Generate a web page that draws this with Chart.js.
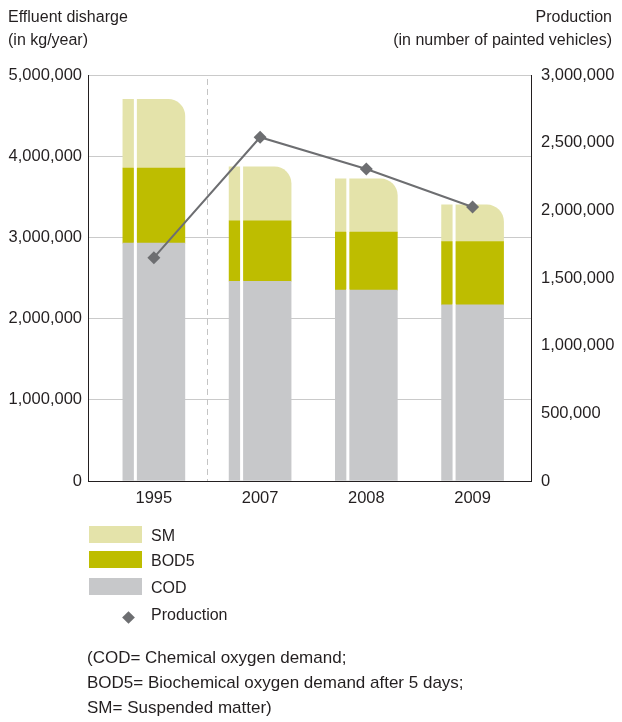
<!DOCTYPE html>
<html>
<head>
<meta charset="utf-8">
<title>Effluent discharge and production</title>
<script src="https://cdn.jsdelivr.net/npm/chart.js@4.4.1/dist/chart.umd.min.js"></script>
<style>
  html, body { margin: 0; padding: 0; background: #fff; }
  #wrap {
    position: relative; width: 622px; height: 722px; overflow: hidden;
    font-family: "Liberation Sans", Arial, sans-serif;
    color: #231f20;
  }
  #chart { position: absolute; left: 0; top: 0; }
  .t { position: absolute; font-size: 16px; line-height: 18px; white-space: nowrap; }
  .right { text-align: right; right: 10px; }
  .box { position: absolute; width: 53px; height: 17px; }
  .diamond { position: absolute; width: 9px; height: 9px; transform: rotate(45deg); }
  .note { position: absolute; left: 87px; top: 645px; font-size: 17px; line-height: 25px; white-space: nowrap; }
</style>
</head>
<body>
<div id="wrap">
  <canvas id="chart" width="622" height="722"></canvas>
  <div class="t" style="left:8px;top:8px;">Effluent disharge</div>
  <div class="t" style="left:8px;top:30.5px;">(in kg/year)</div>
  <div class="t right" style="top:8px;">Production</div>
  <div class="t right" style="top:30.5px;">(in number of painted vehicles)</div>
  <div id="legend"></div>
  <div class="note">(COD= Chemical oxygen demand;<br>BOD5= Biochemical oxygen demand after 5 days;<br>SM= Suspended matter)</div>
</div>
<script>
// Years on the category axis
const years = ['1995', '2007', '2008', '2009'];

// Effluent discharge, kg/year, stacked from the bottom up
const codValues  = [2930000, 2460000, 2350000, 2170000];
const bod5Values = [925000, 745000, 715000, 780000];
const smValues   = [845000, 665000, 655000, 450000];

// Production, number of painted vehicles (right axis)
const productionValues = [1650000, 2540000, 2305000, 2025000];

// Axis ranges and tick steps
const leftTicks  = { min: 0, max: 5000000, step: 1000000 };
const rightTicks = { min: 0, max: 3000000, step: 500000 };

const seriesNames = { sm: 'SM', bod5: 'BOD5', cod: 'COD', production: 'Production' };

const colors = {
  sm: '#e4e3aa',
  bod5: '#bebd00',
  cod: '#c7c8ca',
  production: '#6d6e71',
  grid: '#cacaca',
  axis: '#231f20',
  text: '#231f20',
  separator: '#c4c4c4'
};

Chart.defaults.font.family = '"Liberation Sans", Arial, sans-serif';
Chart.defaults.font.size = 16.5;
Chart.defaults.color = colors.text;

const fmt = v => Number(v).toLocaleString('en-US');
const points = arr => arr.map((v, i) => ({ x: i, y: v }));

// Each column: a narrow strip, a white slit, then the wide body
const STRIP = 11, SLIT = 3;

const slitPlugin = {
  id: 'slit',
  afterDatasetDraw(chart, args) {
    const meta = args.meta;
    if (meta.type !== 'bar') return;
    const ctx = chart.ctx;
    ctx.save();
    ctx.fillStyle = '#ffffff';
    meta.data.forEach(el => {
      const p = el.getProps(['x', 'y', 'base', 'width'], true);
      const left = p.x - p.width / 2;
      const top = Math.min(p.y, p.base);
      const bottom = Math.max(p.y, p.base);
      ctx.fillRect(left + STRIP, top - 1, SLIT, bottom - top + 1);
    });
    ctx.restore();
  }
};

// Dashed divider between 1995 and the later years
const dividerPlugin = {
  id: 'divider',
  beforeDatasetsDraw(chart) {
    const { ctx, chartArea, scales } = chart;
    const x = Math.round(scales.x.getPixelForValue(0.5)) + 0.5;
    ctx.save();
    ctx.strokeStyle = colors.separator;
    ctx.lineWidth = 1;
    ctx.setLineDash([6, 4]);
    ctx.beginPath();
    ctx.moveTo(x, chartArea.top + 4);
    ctx.lineTo(x, chartArea.bottom);
    ctx.stroke();
    ctx.restore();
  }
};

new Chart(document.getElementById('chart'), {
  data: {
    datasets: [
      {
        type: 'line', label: seriesNames.production, yAxisID: 'y2', order: 0,
        data: points(productionValues),
        borderColor: colors.production, borderWidth: 2, tension: 0,
        pointStyle: 'rectRot', pointRadius: 6.5, pointHoverRadius: 6.5,
        pointBackgroundColor: colors.production, pointBorderWidth: 0
      },
      {
        type: 'bar', label: seriesNames.cod, yAxisID: 'y', stack: 'effluent', order: 1,
        data: points(codValues), backgroundColor: colors.cod, barThickness: 62, borderWidth: 0
      },
      {
        type: 'bar', label: seriesNames.bod5, yAxisID: 'y', stack: 'effluent', order: 1,
        data: points(bod5Values), backgroundColor: colors.bod5, barThickness: 62, borderWidth: 0
      },
      {
        type: 'bar', label: seriesNames.sm, yAxisID: 'y', stack: 'effluent', order: 1,
        data: points(smValues), backgroundColor: colors.sm, barThickness: 62, borderWidth: 0,
        borderSkipped: false,
        borderRadius: { topLeft: 0, topRight: 17, bottomLeft: 0, bottomRight: 0 }
      }
    ]
  },
  options: {
    responsive: false,
    animation: false,
    events: [],
    layout: { padding: { left: 0, right: 0, top: 75, bottom: 201 } },
    plugins: { legend: { display: false }, tooltip: { enabled: false } },
    scales: {
      x: {
        type: 'linear', min: -0.62, max: 3.55, offset: false, z: 1,
        grid: { display: false, drawTicks: false },
        border: { display: true, color: colors.axis, width: 1 },
        afterBuildTicks: s => { s.ticks = years.map((_, i) => ({ value: i })); },
        ticks: {
          callback: v => years[v] ?? '',
          autoSkip: false, maxRotation: 0, padding: 8, color: colors.text
        },
        afterFit: s => { s.height = 40; }
      },
      y: {
        type: 'linear', position: 'left', stacked: true,
        min: leftTicks.min, max: leftTicks.max,
        grid: {
          color: c => (c.tick && c.tick.value === 0 ? 'rgba(0,0,0,0)' : colors.grid),
          lineWidth: 1, drawTicks: false
        },
        border: { display: true, color: colors.axis, width: 1 },
        ticks: { stepSize: leftTicks.step, padding: 6, callback: v => fmt(v), color: colors.text },
        afterFit: s => { s.width = 88; }
      },
      y2: {
        type: 'linear', position: 'right',
        min: rightTicks.min, max: rightTicks.max,
        grid: { display: false, drawTicks: false },
        border: { display: true, color: colors.axis, width: 1 },
        ticks: { stepSize: rightTicks.step, padding: 10, callback: v => fmt(v), color: colors.text },
        afterFit: s => { s.width = 91; }
      }
    }
  },
  plugins: [dividerPlugin, slitPlugin]
});

// Legend below the plot
const legendItems = [
  { name: seriesNames.sm, color: colors.sm, top: 526 },
  { name: seriesNames.bod5, color: colors.bod5, top: 551 },
  { name: seriesNames.cod, color: colors.cod, top: 578 }
];
const legend = document.getElementById('legend');
legendItems.forEach(it => {
  const b = document.createElement('div');
  b.className = 'box';
  b.style.left = '89px'; b.style.top = it.top + 'px'; b.style.background = it.color;
  legend.appendChild(b);
  const t = document.createElement('div');
  t.className = 't';
  t.style.left = '151px'; t.style.top = (it.top + 1) + 'px';
  t.textContent = it.name;
  legend.appendChild(t);
});
const d = document.createElement('div');
d.className = 'diamond';
d.style.left = '123.5px'; d.style.top = '612.5px'; d.style.background = colors.production;
legend.appendChild(d);
const pt = document.createElement('div');
pt.className = 't';
pt.style.left = '151px'; pt.style.top = '606px';
pt.textContent = seriesNames.production;
legend.appendChild(pt);
</script>
</body>
</html>
